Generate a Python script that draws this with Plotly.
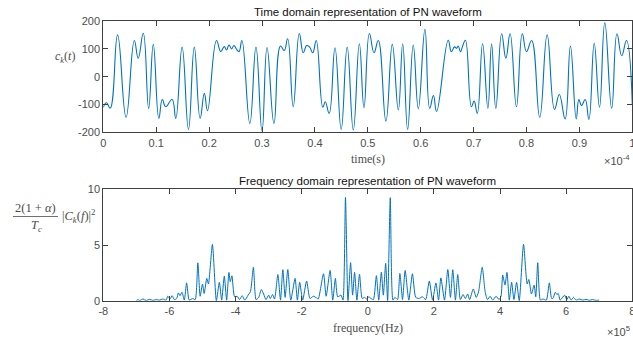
import numpy as np
import plotly.graph_objects as go

# ---- time-domain PN waveform (t in units of 1e-4 s, amplitude) ----
t_units = [0.000, 0.006, 0.013, 0.027, 0.043, 0.0586, 0.066, 0.0756, 0.0857, 0.0945,
           0.105, 0.1115, 0.118, 0.130, 0.137, 0.149, 0.161, 0.172, 0.183, 0.191,
           0.197, 0.214, 0.222, 0.2287, 0.2331, 0.2376, 0.2426, 0.247, 0.252, 0.2565,
           0.262, 0.277, 0.2886, 0.300, 0.3095, 0.3226, 0.335, 0.342, 0.3485, 0.359,
           0.3705, 0.378, 0.3845, 0.390, 0.396, 0.4025, 0.415, 0.4196, 0.427, 0.438,
           0.4497, 0.461, 0.4726, 0.484, 0.4928, 0.503, 0.5117, 0.5198, 0.5343, 0.5463,
           0.5577, 0.566, 0.5753, 0.5859, 0.5955, 0.608, 0.617, 0.624, 0.630, 0.652,
           0.658, 0.664, 0.668, 0.671, 0.675, 0.679, 0.6845, 0.696, 0.701, 0.707,
           0.717, 0.727, 0.734, 0.742, 0.753, 0.761, 0.769, 0.781, 0.792, 0.800,
           0.8097, 0.825, 0.839, 0.853, 0.862, 0.873, 0.883, 0.894, 0.899, 0.904,
           0.911, 0.918, 0.928, 0.938, 0.948, 0.961, 0.971, 0.980, 0.989, 1.000]
ck = [-110, -94, -113, 150, -146, 130, 66, 156, -114, 116,
      -150, -82, -108, -82, -150, 106, -190, 106, -150, -60,
      -122, 130, 90, 108, 96, 114, 100, 112, 98, 90,
      130, -168, 106, -196, 105, -168, 110, 94, 136, -108,
      155, 86, 112, 106, 86, 130, -110, -90, -132, 104,
      -190, 106, -192, 118, -112, 155, 86, 130, -160, 116,
      -120, 118, -190, 114, -115, 170, -114, -68, -125, 131,
      90, 107, 102, 110, 90, 108, 131, -108, -88, -132,
      118, -114, 118, -114, 154, 66, 154, -108, 154, 90,
      130, -146, 150, -118, -64, -152, 110, -152, -82, -104,
      -82, -154, 120, -110, 194, -114, 154, 75, 130, -100]

# ---- frequency-domain spectrum (f in units of 1e5 Hz) ----
f_units = [-7.00, -6.95, -6.90, -6.80, -6.70, -6.60, -6.50, -6.40, -6.30, -6.20,
           -6.10, -6.05, -5.98, -5.92, -5.85, -5.78, -5.73, -5.68, -5.62, -5.55,
           -5.48, -5.40, -5.30, -5.22, -5.14, -5.07, -5.00, -4.95, -4.87, -4.82,
           -4.70, -4.58, -4.49, -4.42, -4.34, -4.27, -4.20, -4.16, -4.11, -4.03,
           -3.95, -3.88, -3.80, -3.72, -3.62, -3.55, -3.46, -3.38, -3.30, -3.22,
           -3.15, -3.08, -3.00, -2.95, -2.88, -2.82, -2.72, -2.64, -2.57, -2.50,
           -2.42, -2.33, -2.20, -2.13, -2.06, -1.97, -1.85, -1.75, -1.65, -1.55,
           -1.50, -1.34, -1.26, -1.14, -1.06, -0.98, -0.91, -0.81, -0.75, -0.675,
           -0.60, -0.52, -0.46, -0.40, -0.33, -0.25, -0.17, -0.10, -0.03, 0.03,
           0.10, 0.17, 0.26, 0.33, 0.41, 0.47, 0.54, 0.60, 0.68, 0.76,
           0.82, 0.90, 0.97, 1.05, 1.13, 1.24, 1.35, 1.45, 1.55, 1.65,
           1.75, 1.86, 1.96, 2.06, 2.14, 2.21, 2.32, 2.42, 2.50, 2.57,
           2.65, 2.72, 2.80, 2.88, 2.95, 3.02, 3.08, 3.19, 3.28, 3.35,
           3.46, 3.55, 3.62, 3.70, 3.78, 3.88, 3.97, 4.03, 4.08, 4.15,
           4.21, 4.28, 4.35, 4.42, 4.50, 4.58, 4.71, 4.82, 4.87, 4.95,
           5.03, 5.08, 5.14, 5.22, 5.30, 5.40, 5.49, 5.56, 5.60, 5.67,
           5.72, 5.76, 5.82, 5.95, 6.02, 6.08, 6.15, 6.22, 6.30, 6.40,
           6.50, 6.60, 6.70, 6.80, 6.90, 7.00]
psd = [0.02, 0.10, 0.02, 0.15, 0.02, 0.12, 0.03, 0.10, 0.05, 0.15,
       0.05, 0.40, 0.15, 0.45, 0.10, 0.20, 0.70, 0.45, 0.75, 0.05,
       1.60, 0.05, 0.20, 0.10, 3.40, 0.40, 1.50, 0.65, 2.00, 1.50,
       5.05, 0.00, 1.65, 0.05, 2.20, 0.05, 2.54, 1.70, 2.24, 0.36,
       0.40, 0.10, 0.45, 0.05, 0.50, 0.80, 3.00, 0.10, 0.30, 1.00,
       0.60, 0.10, 0.50, 0.20, 0.55, 0.15, 2.35, 0.05, 2.78, 0.30,
       2.80, 0.05, 2.00, 0.05, 1.65, 0.05, 1.77, 0.20, 0.40, 0.25,
       0.15, 2.42, 0.40, 2.72, 0.05, 2.00, 0.35, 0.50, 0.05, 9.28,
       0.00, 3.41, 0.50, 2.54, 0.05, 2.37, 0.20, 0.30, 0.15, 0.35,
       0.20, 0.10, 2.25, 0.05, 2.55, 0.50, 3.35, 0.00, 9.25, 0.05,
       0.30, 0.10, 2.45, 0.10, 2.72, 0.05, 2.42, 0.30, 0.20, 0.35,
       0.10, 1.77, 0.05, 1.60, 0.05, 2.05, 0.05, 2.80, 0.30, 2.78,
       0.05, 2.35, 0.10, 0.55, 0.20, 0.60, 0.10, 1.05, 0.30, 0.80,
       3.00, 0.80, 0.10, 0.40, 0.05, 0.40, 0.10, 0.40, 2.30, 1.40,
       2.54, 0.05, 1.65, 0.10, 1.65, 0.00, 5.06, 1.50, 1.90, 0.60,
       1.40, 0.35, 3.41, 0.05, 0.15, 0.05, 1.60, 0.20, 0.20, 0.75,
       0.55, 0.65, 0.05, 0.50, 0.10, 0.40, 0.05, 0.30, 0.05, 0.15,
       0.05, 0.12, 0.03, 0.10, 0.03, 0.05]

time_ticks = [0, 0.1, 0.2, 0.3, 0.4, 0.5, 0.6, 0.7, 0.8, 0.9, 1]
time_tick_text = ["0", "0.1", "0.2", "0.3", "0.4", "0.5", "0.6", "0.7", "0.8", "0.9", "1"]
amp_ticks = [-200, -100, 0, 100, 200]
freq_ticks = [-8, -6, -4, -2, 0, 2, 4, 6, 8]
psd_ticks = [0, 5, 10]

LINE = "#0072BD"
AX = "#404040"
TXT = "#4d4d4d"
SANS = "Liberation Sans, Arial, sans-serif"
SERIF = "Liberation Serif, Times New Roman, serif"

t_sec = np.array(t_units) * 1e-4
f_hz = np.array(f_units) * 1e5

fig = go.Figure()
fig.add_trace(go.Scatter(x=t_sec, y=ck, mode="lines",
                         line=dict(color=LINE, width=1.1, shape="spline", smoothing=1.3),
                         xaxis="x", yaxis="y", showlegend=False, hoverinfo="skip"))
fig.add_trace(go.Scatter(x=f_hz, y=psd, mode="lines",
                         line=dict(color=LINE, width=1.0, shape="spline", smoothing=0.6),
                         xaxis="x2", yaxis="y2", showlegend=False, hoverinfo="skip"))

x0, x1 = 103.3 / 633, 632.3 / 633
axis_common = dict(showline=True, linecolor=AX, linewidth=1, mirror="allticks",
                   ticks="inside", ticklen=5, tickcolor=AX, tickwidth=1,
                   showgrid=False, zeroline=False, automargin=False,
                   ticklabeloverflow="allow",
                   tickfont=dict(family=SANS, size=11, color=TXT))

fig.update_layout(
    width=633, height=343,
    margin=dict(l=0, r=0, t=0, b=0, autoexpand=False),
    paper_bgcolor="white", plot_bgcolor="white",
    xaxis=dict(domain=[x0, x1], anchor="y", range=[0, 1e-4],
               tickvals=[v * 1e-4 for v in time_ticks], ticktext=time_tick_text,
               **axis_common),
    yaxis=dict(domain=[1 - 132.3 / 343, 1 - 21 / 343], anchor="x", range=[-200, 200],
               tickvals=amp_ticks, ticktext=[str(v) for v in amp_ticks], **axis_common),
    xaxis2=dict(domain=[x0, x1], anchor="y2", range=[-8e5, 8e5],
                tickvals=[v * 1e5 for v in freq_ticks], ticktext=[str(v) for v in freq_ticks],
                **axis_common),
    yaxis2=dict(domain=[1 - 300.7 / 343, 1 - 189.3 / 343], anchor="x2", range=[0, 10],
                tickvals=psd_ticks, ticktext=[str(v) for v in psd_ticks], **axis_common),
)

def note(text, x, y, size=11, family=SANS, color="#000000", xanchor="center", yanchor="middle"):
    fig.add_annotation(text=text, x=x / 633, y=1 - y / 343, xref="paper", yref="paper",
                       showarrow=False, xanchor=xanchor, yanchor=yanchor,
                       font=dict(family=family, size=size, color=color))

# titles
note("Time domain representation of PN waveform", 367.8, 12, size=11.5, color="#111111")
note("Frequency domain representation of PN waveform", 367.8, 181, size=11.5, color="#111111")

# axis labels
note("time(s)", 367.8, 159, size=12, family=SERIF, color=TXT)
note("frequency(Hz)", 367.8, 328, size=12, family=SERIF, color=TXT)
note("<i>c</i><sub><i>k</i></sub>(<i>t</i>)", 65, 57, size=12, family=SERIF, color=TXT)

# fraction-style label of the spectrum axis
note("2(1 + <i>α</i>)", 35.5, 208, size=12.5, family=SERIF, color=TXT)
note("<i>T</i><sub><i>c</i></sub>", 36, 226, size=12.5, family=SERIF, color=TXT)
note("|<i>C</i><sub><i>k</i></sub>(<i>f</i>)|<sup>2</sup>", 60, 216, size=12.5, family=SERIF,
     color=TXT, xanchor="left")
fig.add_shape(type="line", xref="paper", yref="paper",
              x0=13 / 633, x1=58 / 633, y0=1 - 216.5 / 343, y1=1 - 216.5 / 343,
              line=dict(color=TXT, width=0.8))

# exponent notes
note("×10<sup>-4</sup>", 632, 160, size=11, color=TXT, xanchor="right")
note("×10<sup>5</sup>", 632, 331, size=11, color=TXT, xanchor="right")

fig.write_html("out.html")
